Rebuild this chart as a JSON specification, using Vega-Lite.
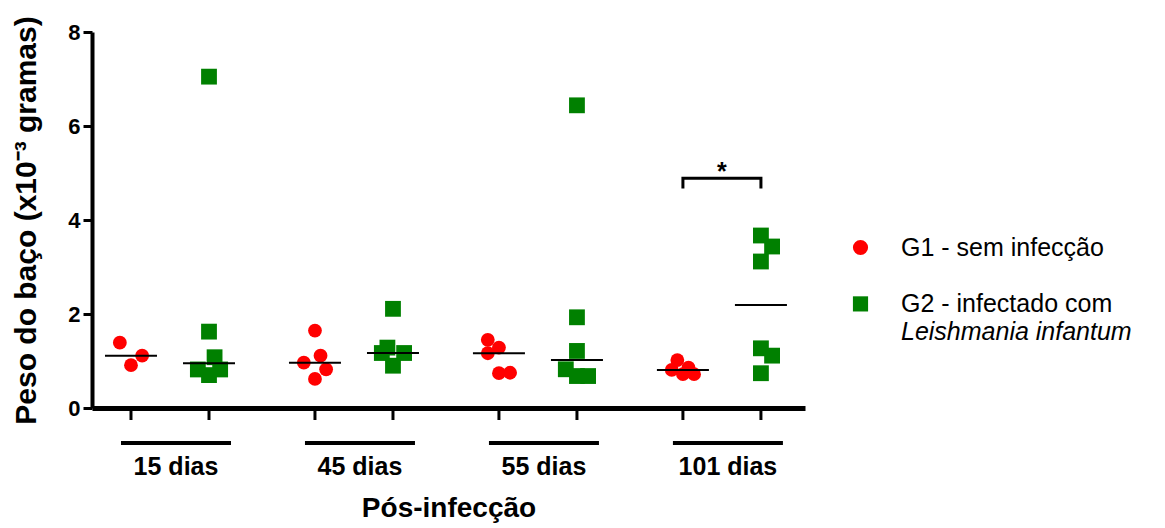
{
  "$schema": "https://vega.github.io/schema/vega-lite/v6.json",
  "autosize": {"type": "none"},
  "padding": {"left": 92, "top": 32, "right": 360, "bottom": 120},
  "width": 713,
  "height": 376,
  "background": "white",
  "config": {
    "font": "Liberation Sans",
    "view": {"stroke": null},
    "axis": {"grid": false, "domainColor": "black", "tickColor": "black", "labelColor": "black", "titleColor": "black", "labelFont": "Liberation Sans", "titleFont": "Liberation Sans"}
  },
  "datasets": {
    "pts": [
      {"time": "15 dias", "group": "G1", "slot": "G1-2", "value": 1.39},
      {"time": "15 dias", "group": "G1", "slot": "G1+2", "value": 1.114},
      {"time": "15 dias", "group": "G1", "slot": "G1", "value": 0.91},
      {"time": "15 dias", "group": "G2", "slot": "G2", "value": 7.05},
      {"time": "15 dias", "group": "G2", "slot": "G2", "value": 1.625},
      {"time": "15 dias", "group": "G2", "slot": "G2+1", "value": 1.08},
      {"time": "15 dias", "group": "G2", "slot": "G2-2", "value": 0.82},
      {"time": "15 dias", "group": "G2", "slot": "G2+2", "value": 0.82},
      {"time": "15 dias", "group": "G2", "slot": "G2", "value": 0.70},
      {"time": "45 dias", "group": "G1", "slot": "G1", "value": 1.647},
      {"time": "45 dias", "group": "G1", "slot": "G1+1", "value": 1.114},
      {"time": "45 dias", "group": "G1", "slot": "G1-2", "value": 0.965},
      {"time": "45 dias", "group": "G1", "slot": "G1+2", "value": 0.824},
      {"time": "45 dias", "group": "G1", "slot": "G1", "value": 0.618},
      {"time": "45 dias", "group": "G2", "slot": "G2", "value": 2.11},
      {"time": "45 dias", "group": "G2", "slot": "G2-1", "value": 1.285},
      {"time": "45 dias", "group": "G2", "slot": "G2-2", "value": 1.17},
      {"time": "45 dias", "group": "G2", "slot": "G2+2", "value": 1.17},
      {"time": "45 dias", "group": "G2", "slot": "G2", "value": 0.90},
      {"time": "55 dias", "group": "G1", "slot": "G1-2", "value": 1.45},
      {"time": "55 dias", "group": "G1", "slot": "G1", "value": 1.285},
      {"time": "55 dias", "group": "G1", "slot": "G1-2", "value": 1.165},
      {"time": "55 dias", "group": "G1", "slot": "G1", "value": 0.74},
      {"time": "55 dias", "group": "G1", "slot": "G1+2", "value": 0.75},
      {"time": "55 dias", "group": "G2", "slot": "G2", "value": 6.44},
      {"time": "55 dias", "group": "G2", "slot": "G2", "value": 1.93},
      {"time": "55 dias", "group": "G2", "slot": "G2", "value": 1.214},
      {"time": "55 dias", "group": "G2", "slot": "G2-2", "value": 0.824},
      {"time": "55 dias", "group": "G2", "slot": "G2", "value": 0.68},
      {"time": "55 dias", "group": "G2", "slot": "G2+2", "value": 0.68},
      {"time": "101 dias", "group": "G1", "slot": "G1-1", "value": 1.02},
      {"time": "101 dias", "group": "G1", "slot": "G1-2", "value": 0.81},
      {"time": "101 dias", "group": "G1", "slot": "G1", "value": 0.72},
      {"time": "101 dias", "group": "G1", "slot": "G1+1", "value": 0.86},
      {"time": "101 dias", "group": "G1", "slot": "G1+2", "value": 0.72},
      {"time": "101 dias", "group": "G2", "slot": "G2", "value": 3.67},
      {"time": "101 dias", "group": "G2", "slot": "G2+2", "value": 3.436},
      {"time": "101 dias", "group": "G2", "slot": "G2", "value": 3.117},
      {"time": "101 dias", "group": "G2", "slot": "G2", "value": 1.27},
      {"time": "101 dias", "group": "G2", "slot": "G2+2", "value": 1.114},
      {"time": "101 dias", "group": "G2", "slot": "G2", "value": 0.74}
    ],
    "bracket": [
      {"time": "101 dias", "group": "G1", "value": 4.67, "step": 1},
      {"time": "101 dias", "group": "G1", "value": 4.89, "step": 2},
      {"time": "101 dias", "group": "G2", "value": 4.89, "step": 3},
      {"time": "101 dias", "group": "G2", "value": 4.67, "step": 4}
    ],
    "star": [
      {"time": "101 dias", "value": 4.86, "label": "*"}
    ]
  },
  "layer": [
    {
      "data": {"name": "pts"},
      "mark": {"type": "point", "filled": true, "opacity": 1, "strokeWidth": 0},
      "encoding": {
        "x": {
          "field": "time", "type": "nominal",
          "scale": {"type": "band", "domain": ["15 dias", "45 dias", "55 dias", "101 dias"], "paddingInner": 0.4245, "paddingOuter": 0.15, "align": 0.454},
          "axis": {"title": "Pós-infecção", "ticks": false, "tickSize": 0, "domainWidth": 5, "labelFontSize": 25, "labelFontWeight": "bold", "labelPadding": 46, "labelOffset": 6, "labelAngle": 0, "titleFontSize": 28, "titleFontWeight": "bold", "titlePadding": 15}
        },
        "xOffset": {
          "field": "slot", "type": "nominal",
          "scale": {"type": "band", "domain": ["G1-2","G1-1","G1","G1+1","G1+2","s1","s2","s3","s4","s5","s6","s7","s8","s9","G2-2","G2-1","G2","G2+1","G2+2"], "paddingInner": 0, "paddingOuter": 0}
        },
        "y": {
          "field": "value", "type": "quantitative",
          "scale": {"domain": [0, 8], "nice": false},
          "axis": {"title": "Peso do baço (x10⁻³ gramas)", "values": [0, 2, 4, 6, 8], "format": "d", "domainWidth": 4, "tickWidth": 3, "tickSize": 9, "labelFontSize": 22, "labelFontWeight": "bold", "labelPadding": 3, "titleFontSize": 30, "titleFontWeight": "bold", "titlePadding": 26}
        },
        "color": {
          "field": "group", "type": "nominal",
          "scale": {"domain": ["G1", "B", "G2", "L"], "range": ["#ff0000", "rgba(0,0,0,0)", "#008000", "rgba(0,0,0,0)"]},
          "legend": {"title": null, "orient": "none", "legendX": 756, "legendY": 203, "padding": 0, "rowPadding": 2.2, "labelFontSize": 25, "labelLimit": 400, "labelColor": "black", "labelOffset": 28, "symbolSize": 230, "symbolStrokeWidth": 0, "labelFontStyle": {"expr": "datum.value === 'L' ? 'italic' : 'normal'"}, "labelExpr": "datum.value === 'G1' ? 'G1 - sem infecção' : datum.value === 'G2' ? 'G2 - infectado com' : datum.value === 'L' ? 'Leishmania infantum' : ''"}
        },
        "shape": {
          "field": "group", "type": "nominal",
          "scale": {"domain": ["G1", "B", "G2", "L"], "range": ["circle", "circle", "square", "circle"]},
          "legend": {"title": null, "orient": "none", "legendX": 756, "legendY": 203, "padding": 0, "rowPadding": 2.2, "labelFontSize": 25, "labelLimit": 400, "labelColor": "black", "labelOffset": 28, "symbolSize": 230, "symbolStrokeWidth": 0, "labelFontStyle": {"expr": "datum.value === 'L' ? 'italic' : 'normal'"}, "labelExpr": "datum.value === 'G1' ? 'G1 - sem infecção' : datum.value === 'G2' ? 'G2 - infectado com' : datum.value === 'L' ? 'Leishmania infantum' : ''"}
        },
        "size": {"condition": {"test": "datum.group === 'G1'", "value": 190}, "value": 250}
      }
    },
    {
      "data": {"name": "pts"},
      "transform": [{"aggregate": [{"op": "median", "field": "value", "as": "value"}], "groupby": ["time", "group"]}],
      "mark": {"type": "tick", "orient": "horizontal", "size": 52, "thickness": 2, "color": "black", "opacity": 1},
      "encoding": {
        "x": {"field": "time", "type": "nominal", "scale": {"type": "band", "domain": ["15 dias", "45 dias", "55 dias", "101 dias"], "paddingInner": 0.4245, "paddingOuter": 0.15, "align": 0.454}},
        "xOffset": {"field": "group", "type": "nominal", "scale": {"type": "band", "domain": ["G1-2","G1-1","G1","G1+1","G1+2","s1","s2","s3","s4","s5","s6","s7","s8","s9","G2-2","G2-1","G2","G2+1","G2+2"], "paddingInner": 0, "paddingOuter": 0}},
        "y": {"field": "value", "type": "quantitative", "scale": {"domain": [0, 8], "nice": false}}
      }
    },
    {
      "data": {"name": "pts"},
      "transform": [{"aggregate": [{"op": "count", "as": "n"}], "groupby": ["time", "group"]}],
      "mark": {"type": "tick", "orient": "vertical", "size": 12, "thickness": 3, "color": "black", "opacity": 1, "yOffset": 6},
      "encoding": {
        "x": {"field": "time", "type": "nominal", "scale": {"type": "band", "domain": ["15 dias", "45 dias", "55 dias", "101 dias"], "paddingInner": 0.4245, "paddingOuter": 0.15, "align": 0.454}},
        "xOffset": {"field": "group", "type": "nominal", "scale": {"type": "band", "domain": ["G1-2","G1-1","G1","G1+1","G1+2","s1","s2","s3","s4","s5","s6","s7","s8","s9","G2-2","G2-1","G2","G2+1","G2+2"], "paddingInner": 0, "paddingOuter": 0}},
        "y": {"datum": 0, "type": "quantitative"}
      }
    },
    {
      "data": {"name": "pts"},
      "transform": [{"aggregate": [{"op": "count", "as": "n"}], "groupby": ["time"]}],
      "mark": {"type": "tick", "orient": "horizontal", "size": 110, "thickness": 4, "color": "black", "opacity": 1, "yOffset": 35, "xOffset": 6},
      "encoding": {
        "x": {"field": "time", "type": "nominal", "scale": {"type": "band", "domain": ["15 dias", "45 dias", "55 dias", "101 dias"], "paddingInner": 0.4245, "paddingOuter": 0.15, "align": 0.454}},
        "y": {"datum": 0, "type": "quantitative"}
      }
    },
    {
      "data": {"name": "bracket"},
      "mark": {"type": "line", "color": "black", "strokeWidth": 3, "strokeCap": "butt", "strokeJoin": "miter"},
      "encoding": {
        "x": {"field": "time", "type": "nominal", "scale": {"type": "band", "domain": ["15 dias", "45 dias", "55 dias", "101 dias"], "paddingInner": 0.4245, "paddingOuter": 0.15, "align": 0.454}},
        "xOffset": {"field": "group", "type": "nominal", "scale": {"type": "band", "domain": ["G1-2","G1-1","G1","G1+1","G1+2","s1","s2","s3","s4","s5","s6","s7","s8","s9","G2-2","G2-1","G2","G2+1","G2+2"], "paddingInner": 0, "paddingOuter": 0}},
        "y": {"field": "value", "type": "quantitative", "scale": {"domain": [0, 8], "nice": false}},
        "order": {"field": "step", "type": "quantitative"}
      }
    },
    {
      "data": {"name": "star"},
      "mark": {"type": "text", "fontSize": 25, "fontWeight": "bold", "baseline": "alphabetic", "color": "black"},
      "encoding": {
        "x": {"field": "time", "type": "nominal", "scale": {"type": "band", "domain": ["15 dias", "45 dias", "55 dias", "101 dias"], "paddingInner": 0.4245, "paddingOuter": 0.15, "align": 0.454}},
        "y": {"field": "value", "type": "quantitative", "scale": {"domain": [0, 8], "nice": false}},
        "text": {"field": "label"}
      }
    }
  ]
}
